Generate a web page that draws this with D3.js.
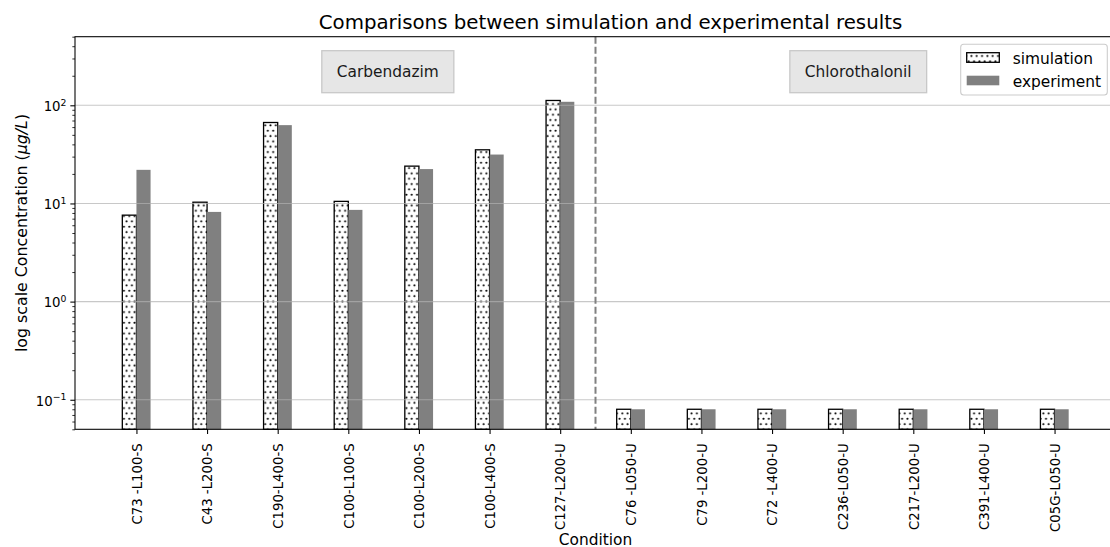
<!DOCTYPE html>
<html>
<head>
<meta charset="utf-8">
<script src="https://cdn.jsdelivr.net/npm/d3@7"></script>
<style>
  body { margin: 0; background: #fff; }
  svg { display: block; font-family: "DejaVu Sans", sans-serif; }
</style>
</head>
<body>
<svg id="chart" width="1110" height="547"></svg>
<script>
// Test conditions along the x axis
const conditions = [
  "C73 -L100-S", "C43 -L200-S", "C190-L400-S", "C100-L100-S", "C100-L200-S",
  "C100-L400-S", "C127-L200-U", "C76 -L050-U", "C79 -L200-U", "C72 -L400-U",
  "C236-L050-U", "C217-L200-U", "C391-L400-U", "C05G-L050-U"
];
// Concentrations in µg/L
const simulation = [7.6, 10.3, 66.8, 10.5, 24.0, 35.2, 112, 0.08, 0.08, 0.08, 0.08, 0.08, 0.08, 0.08];
const experiment = [22.0, 8.2, 62.8, 8.6, 22.4, 31.5, 108.6, 0.08, 0.08, 0.08, 0.08, 0.08, 0.08, 0.08];
const seriesNames = ["simulation", "experiment"];
const compounds = ["Carbendazim", "Chlorothalonil"];
const compoundCount = [7, 7];
// Major y ticks and their exponents
const yTickValues = [0.1, 1, 10, 100];
const yTickExponents = ["\u22121", "0", "1", "2"];

const svg = d3.select("#chart");
const plot = { left: 75, right: 1116, top: 36.7, bottom: 429.3 };
const barW = 0.2;

const x = d3.scaleLinear().domain([-0.87, conditions.length - 1 + 0.87]).range([plot.left, plot.right]);
const y = d3.scaleLog().domain([0.05, 500]).range([plot.bottom, plot.top]);

// Dotted hatch for the simulation bars
const defs = svg.append("defs");
const pat = defs.append("pattern").attr("id", "dots")
  .attr("patternUnits", "userSpaceOnUse").attr("width", 5.33).attr("height", 10.67);
pat.append("rect").attr("width", 5.33).attr("height", 10.67).attr("fill", "#fff");
pat.append("circle").attr("cx", 1.33).attr("cy", 2.67).attr("r", 1.05).attr("fill", "#000");
pat.append("circle").attr("cx", 4.0).attr("cy", 8.0).attr("r", 1.05).attr("fill", "#000");

// Bars
const bars = svg.append("g");
bars.selectAll("rect.sim").data(simulation).join("rect").attr("class", "sim")
  .attr("x", (d, i) => x(i - barW)).attr("width", (d, i) => x(i) - x(i - barW))
  .attr("y", d => y(d)).attr("height", d => plot.bottom - y(d))
  .attr("fill", "url(#dots)").attr("stroke", "#000").attr("stroke-width", 1.3);
bars.selectAll("rect.exp").data(experiment).join("rect").attr("class", "exp")
  .attr("x", (d, i) => x(i)).attr("width", (d, i) => x(i + barW) - x(i))
  .attr("y", d => y(d)).attr("height", d => plot.bottom - y(d))
  .attr("fill", "#808080");

// Horizontal grid at major decades
svg.append("g").selectAll("line").data(yTickValues).join("line")
  .attr("x1", plot.left).attr("x2", plot.right)
  .attr("y1", d => y(d)).attr("y2", d => y(d))
  .attr("stroke", "#b0b0b0").attr("stroke-opacity", 0.7).attr("stroke-width", 1.07);

// Divider between the two compounds
const split = compoundCount[0] - 0.5;
svg.append("line")
  .attr("x1", x(split)).attr("x2", x(split)).attr("y1", plot.top).attr("y2", plot.bottom)
  .attr("stroke", "#808080").attr("stroke-width", 2).attr("stroke-dasharray", "7,3");

// X axis
const xAxis = d3.axisBottom(x).tickValues(d3.range(conditions.length))
  .tickFormat(i => conditions[i]).tickSize(4.67).tickPadding(8);
const gx = svg.append("g").attr("transform", `translate(0,${plot.bottom})`).call(xAxis);
gx.select(".domain").remove();
gx.selectAll(".tick line").attr("stroke", "#000").attr("stroke-width", 1.07);
gx.selectAll(".tick text")
  .attr("font-size", 13.3).attr("font-family", "DejaVu Sans").attr("fill", "#000")
  .attr("transform", "rotate(-90)").attr("text-anchor", "end")
  .attr("x", -14).attr("y", 0).attr("dy", "0.36em")
  .style("white-space", "pre");

// Y axis: major ticks with power-of-ten labels
const gy = svg.append("g").attr("transform", `translate(${plot.left},0)`)
  .call(d3.axisLeft(y).tickValues(yTickValues).tickFormat("").tickSize(4.67));
gy.select(".domain").remove();
gy.selectAll(".tick line").attr("stroke", "#000").attr("stroke-width", 1.07);
gy.selectAll(".tick").each(function (d, i) {
  const t = d3.select(this).append("text")
    .attr("x", -8.5).attr("y", 5.3).attr("text-anchor", "end")
    .attr("font-size", 13.3).attr("fill", "#000").attr("font-family", "DejaVu Sans");
  t.append("tspan").text("10");
  t.append("tspan").attr("dy", -5.5).attr("font-size", 9.3).text(yTickExponents[i]);
});

// Y axis: minor ticks
const minorTicks = [];
for (let e = -2; e <= 2; e++) {
  for (let m = 2; m <= 9; m++) {
    const v = m * Math.pow(10, e);
    if (v >= 0.05 && v <= 500) minorTicks.push(v);
  }
}
const gym = svg.append("g").attr("transform", `translate(${plot.left},0)`)
  .call(d3.axisLeft(y).tickValues(minorTicks).tickFormat("").tickSize(2.67));
gym.select(".domain").remove();
gym.selectAll(".tick line").attr("stroke", "#000").attr("stroke-width", 0.8);

// Frame
svg.append("rect")
  .attr("x", plot.left).attr("y", plot.top)
  .attr("width", plot.right - plot.left).attr("height", plot.bottom - plot.top)
  .attr("fill", "none").attr("stroke", "#000").attr("stroke-width", 1.07);

// Compound labels in shaded boxes
const compoundFx = [0.3005, 0.7524];
compounds.forEach((name, i) => {
  const cx = plot.left + compoundFx[i] * (plot.right - plot.left);
  const g = svg.append("g");
  const box = g.append("rect");
  const t = g.append("text").attr("x", cx).attr("y", 76.7).attr("text-anchor", "middle")
    .attr("font-size", 15.4).attr("fill", "#1a1a1a").text(name);
  const w = t.node().getComputedTextLength();
  box.attr("x", cx - w / 2 - 15).attr("y", 50.7).attr("width", w + 30).attr("height", 42)
    .attr("fill", "#e6e6e6").attr("stroke", "#c8c8c8").attr("stroke-width", 1.3);
});

// Legend
const lg = svg.append("g");
lg.append("rect").attr("x", 960.7).attr("y", 44.3).attr("width", 146.6).attr("height", 50.7)
  .attr("rx", 3).attr("fill", "#fff").attr("fill-opacity", 0.8)
  .attr("stroke", "#cccccc").attr("stroke-width", 1.07);
seriesNames.forEach((name, i) => {
  const yy = 52.7 + i * 23;
  lg.append("rect").attr("x", 966.7).attr("y", yy).attr("width", 32.6).attr("height", 9.6)
    .attr("fill", i === 0 ? "url(#dots)" : "#808080")
    .attr("stroke", i === 0 ? "#000" : "none").attr("stroke-width", 1.3);
  lg.append("text").attr("x", 1012.7).attr("y", yy + 10.8)
    .attr("font-size", 15.4).attr("fill", "#000").text(name);
});

// Title and axis labels
svg.append("text").attr("x", 610.5).attr("y", 29.3)
  .attr("text-anchor", "middle").attr("font-size", 19.8).attr("fill", "#000")
  .text("Comparisons between simulation and experimental results");
svg.append("text").attr("x", (plot.left + plot.right) / 2).attr("y", 544.5)
  .attr("text-anchor", "middle").attr("font-size", 15.4).attr("fill", "#000")
  .text("Condition");
const yl = svg.append("text")
  .attr("transform", `translate(26.5,${(plot.top + plot.bottom) / 2}) rotate(-90)`)
  .attr("text-anchor", "middle").attr("font-size", 15.8).attr("fill", "#000");
yl.append("tspan").text("log scale Concentration (");
yl.append("tspan").attr("font-style", "italic").text("\u03bcg/L");
yl.append("tspan").text(")");
</script>
</body>
</html>
